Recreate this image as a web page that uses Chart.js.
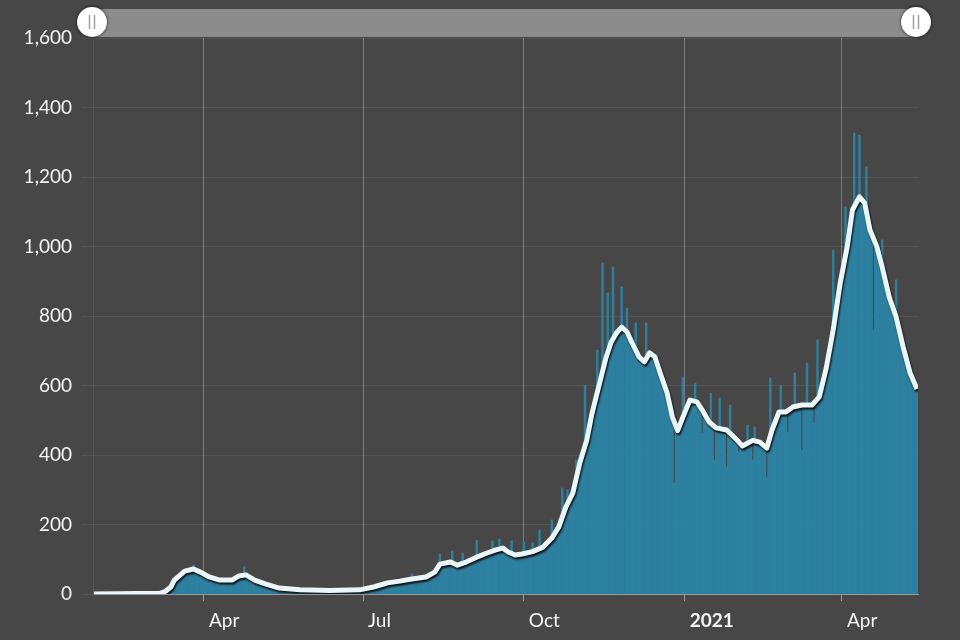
<!DOCTYPE html>
<html>
<head>
<meta charset="utf-8">
<script src="https://cdn.jsdelivr.net/npm/chart.js@4/dist/chart.umd.min.js"></script>
<style>
  body { margin: 0; background: #474747; }
  #wrap { width: 960px; height: 640px; position: relative; }
</style>
</head>
<body>
<div id="wrap"><canvas id="graphicCases"></canvas></div>
<script>
// day 0 = 2020-01-29, one value per day up to 2021-05-13
const dailyCases = [
	1,0,0,0,0,1,0,
	0,0,0,0,1,0,0,
	0,0,0,0,0,0,1,
	0,0,0,0,1,2,0,
	0,3,1,2,4,1,5,
	2,3,4,4,6,8,10,
	10,15,20,28,36,42,50,
	56,60,64,66,68,70,72,
	74,83,72,68,64,60,56,
	54,52,50,47,45,44,42,
	41,40,39,38,38,39,40,
	40,41,42,44,47,50,52,
	54,56,78,52,48,45,42,
	40,37,35,33,31,30,28,
	27,25,23,22,20,19,18,
	17,16,16,15,14,14,13,
	13,13,12,12,12,12,12,
	11,11,11,10,10,10,10,
	10,10,9,9,10,10,10,
	10,10,10,9,9,10,10,
	10,11,11,11,12,12,12,
	12,12,12,13,13,13,14,
	15,16,17,18,19,20,21,
	22,23,24,26,27,29,31,
	32,33,34,35,36,36,37,
	37,38,39,40,41,42,42,
	58,43,44,45,46,47,48,
	48,49,50,52,55,58,63,
	72,80,115,90,91,92,92,
	93,92,124,88,85,83,83,
	85,118,92,95,98,101,104,
	105,106,155,108,110,112,114,
	116,118,120,121,153,124,126,
	128,158,132,130,127,121,120,
	118,153,112,111,110,112,114,
	115,150,117,118,120,122,147,
	126,129,132,184,138,140,145,
	148,152,156,213,165,172,180,
	193,205,305,235,250,300,270,
	285,300,320,386,375,395,410,
	425,601,450,465,490,510,540,
	560,702,610,630,952,655,680,
	866,710,730,941,755,760,765,
	768,884,765,760,823,748,735,
	722,712,780,690,682,678,672,
	668,780,685,694,690,686,682,
	665,650,636,620,600,578,560,
	540,525,509,319,470,480,490,
	495,625,520,535,550,558,560,
	556,607,553,540,530,463,520,
	510,500,495,578,488,386,480,
	478,564,476,474,472,366,470,
	544,460,452,445,440,409,430,
	426,428,430,486,435,438,386,
	481,440,438,437,432,428,425,
	337,450,622,472,490,505,515,
	524,601,524,525,526,466,530,
	535,538,636,540,542,543,414,
	544,544,665,544,544,544,492,
	550,731,560,580,600,625,650,
	680,715,740,990,800,840,870,
	895,925,960,1114,1020,1060,1090,
	1105,1327,1125,1140,1320,1143,1135,
	1125,1229,1060,1048,1030,760,999,
	985,970,955,1019,930,900,880,
	855,840,825,810,904,780,760,
	730,711,690,670,650,636,620,
	605,590,580
];

// 7-day average, read at the corners of the line
const avgDays = [0,38,41,44,46,52,57,61,66,72,79,83,87,92,98,106,118,135,152,160,162,168,175,182,190,195,198,204,208,213,219,225,230,234,237,241,245,251,257,262,266,270,274,278,282,285,289,293,296,299,302,305,308,312,315,318,321,324,328,331,334,337,341,345,348,352,356,362,368,371,377,381,385,388,392,396,400,405,411,415,419,423,427,431,434,438,441,444,448,451,455,459,463,467,470,471];
const avgValues = [0,2,8,20,40,66,72,63,49,40,40,52,55,40,29,17,12,10,12,20,23,32,37,43,49,63,86,92,83,92,106,118,127,132,121,112,115,122,135,161,193,250,290,377,443,520,600,680,725,751,768,754,722,682,668,694,682,636,578,509,470,509,558,553,530,495,478,472,443,426,442,437,420,472,524,524,538,544,544,567,650,760,895,999,1105,1143,1125,1048,999,941,855,797,711,636,601,590];

const tickDays = [63, 154, 246, 338, 428];
const tickLabels = ['Apr', 'Jul', 'Oct', '2021', 'Apr'];

const fontFamily = 'Lato, "Open Sans", sans-serif';

const rangeSlider = {
	id: 'rangeSlider',
	afterDraw: function(chart) {
		const ctx = chart.ctx;
		const area = chart.chartArea;
		const cy = area.top - 16;
		ctx.save();
		ctx.fillStyle = '#8c8c8c';
		ctx.fillRect(area.left, area.top - 29, area.right - area.left, 28);
		[area.left - 1, area.right - 2].forEach(function(x) {
			ctx.beginPath();
			ctx.arc(x, cy, 15, 0, Math.PI * 2);
			ctx.fillStyle = '#ffffff';
			ctx.shadowColor = 'rgba(0,0,0,0.9)';
			ctx.shadowBlur = 3;
			ctx.fill();
			ctx.shadowColor = 'transparent';
			ctx.strokeStyle = '#a0a0a0';
			ctx.lineWidth = 1.5;
			ctx.beginPath();
			ctx.moveTo(x - 2.5, cy - 7); ctx.lineTo(x - 2.5, cy + 7);
			ctx.moveTo(x + 2.5, cy - 7); ctx.lineTo(x + 2.5, cy + 7);
			ctx.stroke();
		});
		ctx.restore();
	}
};

const lineShadow = {
	id: 'lineShadow',
	beforeDatasetDraw: function(chart, args) {
		if (args.index !== 0) return;
		const ctx = chart.ctx;
		ctx.save();
		ctx.shadowColor = 'rgba(0,0,0,0.85)';
		ctx.shadowOffsetX = 1;
		ctx.shadowOffsetY = 2;
		ctx.shadowBlur = 2;
	},
	afterDatasetDraw: function(chart, args) {
		if (args.index !== 0) return;
		chart.ctx.restore();
	}
};

new Chart(document.getElementById('graphicCases').getContext('2d'), {
	type: 'bar',
	data: {
		datasets: [{
			type: 'line',
			label: '7-day average',
			data: avgDays.map(function(d, i) { return { x: d, y: avgValues[i] }; }),
			borderColor: '#eaf7fa',
			borderWidth: 5,
			pointRadius: 0,
			tension: 0,
			borderJoinStyle: 'round',
			order: 0
		}, {
			label: 'Daily cases',
			data: dailyCases.map(function(v, i) { return { x: i, y: v }; }),
			backgroundColor: '#2d80a0',
			barPercentage: 1,
			categoryPercentage: 1,
			order: 1
		}]
	},
	options: {
		responsive: true,
		maintainAspectRatio: false,
		animation: false,
		layout: { padding: { left: 0, top: 38, right: 42, bottom: 0 } },
		plugins: { legend: { display: false }, tooltip: { enabled: false } },
		scales: {
			x: {
				type: 'linear',
				offset: false,
				min: -0.5,
				max: dailyCases.length - 0.5,
				afterBuildTicks: function(scale) {
					scale.ticks = tickDays.map(function(d) { return { value: d }; });
				},
				afterFit: function(scale) { scale.height = 46; },
				grid: { offset: false, color: '#7a7a7a', lineWidth: 1, tickLength: 7, tickColor: '#9a9a9a' },
				border: { color: '#9a9a9a' },
				ticks: {
					autoSkip: false,
					maxRotation: 0,
					align: 'start',
					labelOffset: 5,
					padding: 8,
					color: '#f4f4f4',
					font: function(c) {
						const bold = c.tick && c.tick.value === 338;
						return { family: fontFamily, size: 19, weight: bold ? 'bold' : 'normal' };
					},
					callback: function(value) {
						const idx = tickDays.indexOf(value);
						return idx >= 0 ? tickLabels[idx] : '';
					}
				}
			},
			y: {
				min: 0,
				max: 1600,
				afterFit: function(scale) { scale.width = 93; },
				grid: { color: 'rgba(255,255,255,0.07)', tickLength: 11 },
				border: { color: '#555555' },
				ticks: {
					stepSize: 200,
					padding: 10,
					color: '#f4f4f4',
					font: { family: fontFamily, size: 19 }
				}
			}
		}
	},
	plugins: [rangeSlider, lineShadow]
});
</script>
</body>
</html>
